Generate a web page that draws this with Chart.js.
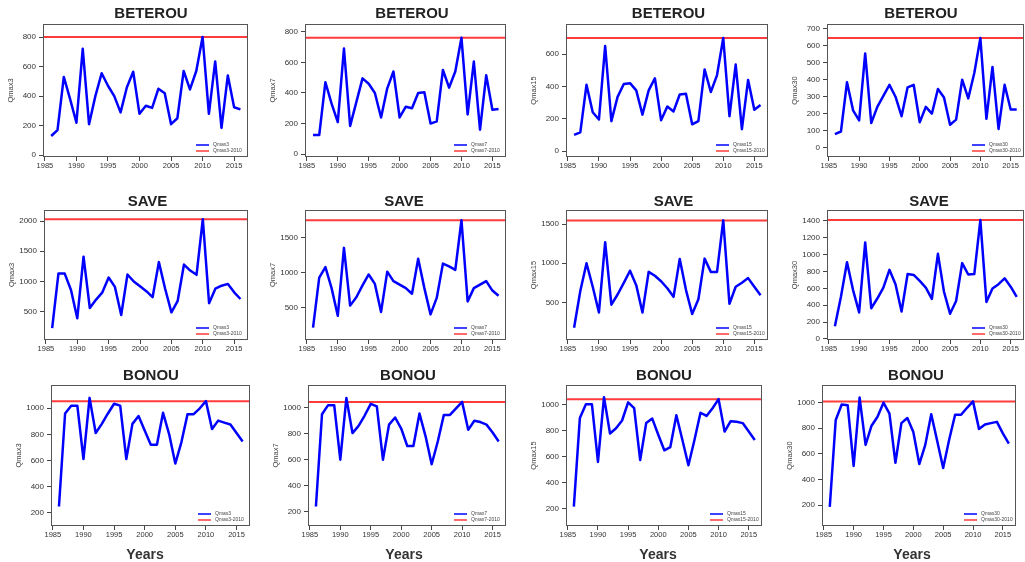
<!DOCTYPE html>
<html><head><meta charset="utf-8">
<script src="https://cdn.jsdelivr.net/npm/chart.js@4.4.1/dist/chart.umd.min.js"></script>
<style>
html,body{margin:0;padding:0;background:#fff;width:1025px;height:562px;overflow:hidden;position:relative}
canvas{position:absolute}
</style>
</head><body>
<script>
// ---------------- data ----------------
const years = [1986,1987,1988,1989,1990,1991,1992,1993,1994,1995,1996,1997,1998,1999,2000,2001,2002,2003,2004,2005,2006,2007,2008,2009,2010,2011,2012,2013,2014,2015,2016];
const xTickLabels = [1985,1990,1995,2000,2005,2010,2015];
const stations = ['BETEROU','SAVE','BONOU'];
const durations = ['Qmax3','Qmax7','Qmax15','Qmax30'];
const xAxisTitle = 'Years';

const beterouQmax3  = [130,170,530,380,220,720,210,400,555,470,400,290,460,565,280,335,320,450,420,210,250,570,445,570,800,280,635,185,540,325,310];
const beterouQmax7  = [125,125,470,330,210,690,185,340,495,460,400,240,430,540,240,310,300,400,405,200,215,550,435,540,760,260,605,160,515,290,295];
const beterouQmax15 = [100,115,410,240,195,650,185,335,415,420,375,225,375,450,190,275,245,350,355,165,185,505,365,470,700,215,535,135,440,255,285];
const beterouQmax30 = [80,95,385,220,160,555,145,240,305,370,300,185,355,370,150,240,200,345,295,135,165,400,290,440,645,170,475,110,370,225,225];

const saveQmax3  = [230,1130,1130,860,390,1410,560,700,820,1065,910,445,1115,1000,920,840,740,1320,880,490,680,1280,1180,1110,2030,640,880,930,960,820,710];
const saveQmax7  = [215,930,1080,780,385,1355,530,650,820,975,840,440,1015,880,830,780,700,1200,780,405,640,1130,1090,1040,1750,590,780,830,880,745,670];
const saveQmax15 = [175,645,1000,700,370,1270,470,600,750,905,720,370,890,840,770,680,570,1055,660,350,540,1060,890,890,1550,480,700,750,810,700,590];
const saveQmax30 = [150,500,910,580,315,1145,365,480,610,820,650,325,770,760,690,610,475,1010,560,300,450,900,765,770,1410,440,600,650,720,620,500];

const bonouQmax3  = [245,960,1020,1020,610,1080,810,880,960,1035,1020,610,880,940,830,720,720,965,800,575,740,955,955,1000,1055,840,905,890,875,810,745];
const bonouQmax7  = [240,950,1020,1020,600,1075,805,860,940,1030,1010,600,870,925,840,705,705,955,780,565,740,945,945,995,1045,830,900,890,870,810,740];
const bonouQmax15 = [215,900,1005,1005,560,1060,780,820,880,1020,975,575,860,895,770,650,675,920,730,535,730,940,915,975,1045,795,875,870,860,795,730];
const bonouQmax30 = [185,865,985,980,505,1040,670,820,890,1000,915,530,840,880,770,520,670,910,700,490,710,905,905,960,1010,795,830,840,850,760,680];

const beterouRef2010 = [800,760,700,645];
const saveRef2010    = [2030,1750,1550,1410];
const bonouRef2010   = [1055,1045,1045,1010];

const beterouYTicks = [[0,200,400,600,800],[0,200,400,600,800],[0,200,400,600],[0,100,200,300,400,500,600,700]];
const saveYTicks    = [[500,1000,1500,2000],[500,1000,1500],[500,1000,1500],[0,200,400,600,800,1000,1200,1400]];
const bonouYTicks   = [[200,400,600,800,1000],[200,400,600,800,1000],[200,400,600,800,1000],[200,400,600,800,1000]];

const series = [
  [beterouQmax3, beterouQmax7, beterouQmax15, beterouQmax30],
  [saveQmax3, saveQmax7, saveQmax15, saveQmax30],
  [bonouQmax3, bonouQmax7, bonouQmax15, bonouQmax30]
];
const refs = [beterouRef2010, saveRef2010, bonouRef2010];
const yTicks = [beterouYTicks, saveYTicks, bonouYTicks];

// ---------------- layout ----------------
const XMIN = 1984.7, XMAX = 2017.2;
const rows = [{ty:14,T:24,B:157},{ty:202,T:210,B:340},{ty:376,T:385,B:526}];
const frame = [
  [{L:43,R:248,tx:151,ymin:-12,ymax:888},{L:305,R:506,tx:412,ymin:-18,ymax:850},{L:566,R:768,tx:668.5,ymin:-37,ymax:786},{L:827,R:1024,tx:921,ymin:-55,ymax:728}],
  [{L:44,R:248,tx:147.5,ymin:32,ymax:2182},{L:305,R:506,tx:404,ymin:39,ymax:1896},{L:566,R:768,tx:673.5,ymin:17,ymax:1683},{L:827,R:1024,tx:929,ymin:-12,ymax:1530}],
  [{L:51,R:250,tx:151,yx:145,ymin:95,ymax:1179},{L:308,R:506,tx:408,yx:404,ymin:90,ymax:1175},{L:566,R:762,tx:664,yx:658,ymin:66,ymax:1154},{L:822,R:1016,tx:916,yx:912,ymin:36,ymax:1138}]
];

Chart.defaults.font.family = "'Liberation Sans', Arial, sans-serif";
Chart.defaults.color = '#333';

const framePlugin = {
  id: 'frame',
  afterLayout(chart, args, opts) {
    const tb = chart.titleBlock;
    if (tb) { tb.left += opts.titleDx; tb.right += opts.titleDx; }
    chart.boxes.forEach(b => {
      if (b !== tb && b.options && b.options.text === xAxisTitle) { b.left += opts.subDx; b.right += opts.subDx; }
    });
  },
  afterDraw(chart) {
    const ctx = chart.ctx, ca = chart.chartArea;
    ctx.save();
    ctx.strokeStyle = '#555';
    ctx.lineWidth = 1;
    ctx.strokeRect(ca.left + 0.5, ca.top + 0.5, ca.right - ca.left - 1, ca.bottom - ca.top - 1);
    chart.data.datasets.forEach((ds, i) => {
      const y = ca.bottom - 12 + i * 6;
      ctx.strokeStyle = ds.borderColor;
      ctx.lineWidth = 1.5;
      ctx.beginPath(); ctx.moveTo(ca.right - 52, y); ctx.lineTo(ca.right - 39, y); ctx.stroke();
      ctx.fillStyle = '#444';
      ctx.font = "5px 'Liberation Sans', Arial, sans-serif";
      ctx.textBaseline = 'middle';
      ctx.textAlign = 'left';
      ctx.fillText(ds.label, ca.right - 35, y);
    });
    ctx.restore();
  }
};

function makePanel(r, c) {
  const f = frame[r][c], rw = rows[r];
  const yW = 40, Hx = 16, padR = 4;
  const last = r === 2;
  const y0 = Math.floor(rw.ty - 10.5);
  const padB = last ? 0 : 2;
  const left = f.L - yW, width = f.R + padR - left;
  const height = rw.B + Hx + (last ? 20 : 0) + padB - y0;
  const cv = document.createElement('canvas');
  cv.width = width; cv.height = height;
  cv.style.left = left + 'px'; cv.style.top = y0 + 'px';
  cv.style.width = width + 'px'; cv.style.height = height + 'px';
  document.body.appendChild(cv);
  const vals = series[r][c];
  const ref = refs[r][c];
  new Chart(cv, {
    type: 'line',
    data: { datasets: [
      { label: durations[c], data: years.map((yr, i) => ({x: yr, y: vals[i]})),
        borderColor: '#0000ff', borderWidth: 2.5, pointRadius: 0, tension: 0, borderJoinStyle: 'round' },
      { label: durations[c] + '-2010', data: [{x: XMIN, y: ref}, {x: XMAX, y: ref}],
        borderColor: '#ff3b3b', borderWidth: 2, pointRadius: 0 }
    ]},
    options: {
      responsive: false, animation: false, devicePixelRatio: 1,
      events: [],
      layout: { padding: {left: 0, right: padR, top: 0, bottom: padB} },
      plugins: {
        legend: {display: false}, tooltip: {enabled: false},
        title: { display: true, text: stations[r], fullSize: false, color: '#222',
          font: {size: 15, weight: 'bold', lineHeight: 1},
          padding: {top: rw.ty - 7.5 - y0, bottom: rw.T - rw.ty - 7.5} },
        subtitle: { display: last, text: xAxisTitle, position: 'bottom', fullSize: false, color: '#333',
          font: {size: 14, weight: 'bold', lineHeight: 1}, padding: {top: 6, bottom: 0} },
        frame: { titleDx: f.tx - (f.L + f.R) / 2, subDx: last ? f.yx - (f.L + f.R) / 2 : 0 }
      },
      scales: {
        x: { type: 'linear', min: XMIN, max: XMAX,
          afterFit: s => { s.height = Hx; },
          afterBuildTicks: s => { s.ticks = xTickLabels.map(v => ({value: v})); },
          ticks: { callback: v => String(v), font: {size: 7.5}, color: '#333', padding: 0, maxRotation: 0, autoSkip: false },
          grid: { drawOnChartArea: false, drawTicks: true, tickLength: 4, color: '#444' },
          border: { display: false } },
        y: { type: 'linear', min: f.ymin, max: f.ymax,
          afterFit: s => { s.width = yW; },
          afterBuildTicks: s => { s.ticks = yTicks[r][c].map(v => ({value: v})); },
          ticks: { callback: v => String(v), font: {size: 8}, color: '#333', padding: 3, autoSkip: false },
          grid: { drawOnChartArea: false, drawTicks: true, tickLength: 4, color: '#444' },
          border: { display: false },
          title: { display: true, text: durations[c], font: {size: 7.5}, color: '#444', padding: {top: 3.5, bottom: 0} } }
      }
    },
    plugins: [framePlugin]
  });
}

for (let r = 0; r < 3; r++) for (let c = 0; c < 4; c++) makePanel(r, c);
</script>
</body></html>
